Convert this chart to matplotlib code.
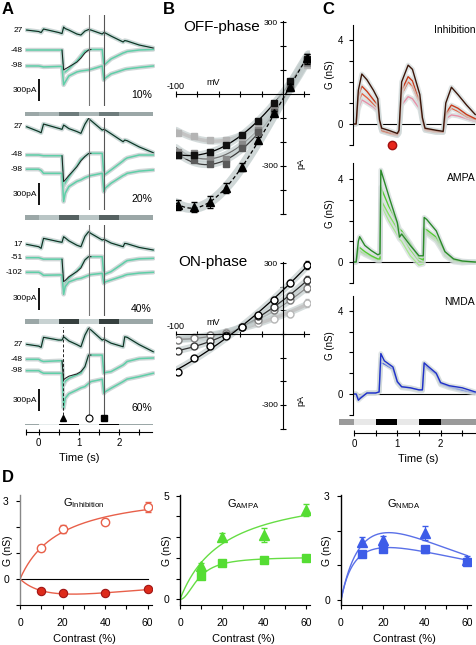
import numpy as np
import matplotlib.pyplot as plt

plt.rcParams['font.family'] = ['Liberation Sans', 'DejaVu Sans']
plt.rcParams['mathtext.fontset'] = 'custom'
plt.rcParams['mathtext.rm'] = 'Liberation Sans'
plt.rcParams['axes.linewidth'] = 0.8

W, H = 477, 645

# ---------------- panel A: currents at three holding potentials (pA) ----------------
tA = [-0.3, 0.0, 0.06, 0.12, 0.5, 0.58, 0.62, 0.66, 0.75, 0.95, 1.05, 1.15,
      1.24, 1.3, 1.58, 1.62, 1.66, 1.8, 2.1, 2.14, 2.2, 2.5, 2.85]

a10_hold = ['27', '-48', '-98']
a10_up = [272, 252, 238, 286, 238, 224, 313, 292, 272, 218, 204, 258,
          279, 272, 218, 238, 231, 190, 109, 129, 122, 68, 27]
a10_mid = [0, 0, 0, 0, 0, 0, -313, -299, -258, -150, -82, -14,
           0, 7, 7, -204, -190, -122, -41, -34, -20, 0, 7]
a10_mid_k = [0, 0, 0, 0, 0, 0, -272, -258, -230, -165, -110, -40,
             0, 7, 7, -204, -190, -122, -41, -34, -20, 0, 7]
a10_low = [-218, -218, -224, -231, -224, -224, -476, -435, -354, -299, -286, -279,
           -272, -265, -218, -408, -381, -326, -272, -265, -258, -238, -218]

a20_hold = ['27', '-48', '-98']
a20_up = [385, 320, 303, 422, 363, 350, 408, 395, 360, 320, 295, 420,
          499, 470, 340, 350, 340, 290, 181, 204, 195, 110, 31]
a20_mid = [0, 0, -5, -10, -10, -10, -420, -380, -300, -150, -60, -20,
           20, 23, 23, -272, -260, -204, -80, -60, -40, 0, 0]
a20_mid_k = [0, 0, -5, -10, -10, -10, -363, -340, -280, -160, -80, -20,
             20, 23, 23, -272, -260, -204, -80, -60, -40, 0, 0]
a20_low = [-194, -194, -210, -250, -250, -250, -635, -520, -431, -360, -340, -310,
           -290, -280, -249, -499, -450, -385, -280, -270, -250, -220, -204]

a40_hold = ['17', '-51', '-102']
a40_up = [182, 150, 128, 264, 218, 210, 286, 270, 230, 170, 150, 290,
          354, 330, 241, 250, 240, 200, 150, 196, 190, 140, 105]
a40_mid = [0, 0, -10, -20, -20, -20, -400, -350, -280, -180, -122, -30,
           14, 14, 14, -235, -220, -190, -77, -60, -40, -15, -9]
a40_mid_k = [0, 0, -10, -20, -20, -20, -326, -310, -260, -190, -140, -30,
             14, 14, 14, -235, -220, -190, -77, -60, -40, -15, -9]
a40_low = [-199, -199, -215, -240, -235, -235, -500, -394, -330, -290, -281, -260,
           -240, -230, -213, -349, -330, -304, -250, -240, -230, -210, -199]

a60_hold = ['27', '-48', '-98']
a60_up = [204, 180, 163, 300, 262, 262, 307, 290, 250, 200, 171, 330,
          422, 400, 262, 275, 262, 220, 171, 307, 300, 200, 103]
a60_mid = [0, 0, -20, -30, -20, -20, -350, -300, -260, -213, -190, -100,
           58, 58, 58, -190, -180, -168, -78, -60, -30, 10, 18]
a60_mid_k = [0, 0, -20, -30, -20, -20, -279, -260, -230, -200, -168, -100,
             58, 58, 58, -190, -180, -168, -78, -60, -30, 10, 18]
a60_low = [-155, -155, -175, -190, -190, -190, -667, -531, -470, -418, -390, -372,
           -330, -304, -272, -463, -440, -395, -304, -290, -270, -236, -190]

contrast_labels = ['10%', '20%', '40%', '60%']
stim_edges = [0.0, 0.5, 1.0, 1.5, 2.0]
sample_times = [0.6, 1.26, 1.63]   # triangle (OFF), circle (ON), square (OFF)

# ---------------- panel B: I-V relations ----------------
V = [-98, -83, -68, -53, -38, -23, -8, 7, 22]
off_light = [-162, -175, -192, -190, -180, -140, -55, 30, 120]
off_mid = [-240, -245, -265, -270, -210, -150, -60, 30, 130]
off_dark = [-255, -275, -290, -290, -225, -160, -75, 25, 140]
off_black = [-254, -254, -242, -212, -171, -112, -37, 54, 146]
off_tri = [-462, -471, -450, -392, -304, -192, -79, 30, 150]
off_tri_err = [22, 22, 25, 20, 15, 12, 10, 10, 15]
on_1 = [-161, -102, -51, -8, 30, 80, 144, 216, 292]
on_2 = [-72, -51, -30, -4, 30, 75, 114, 161, 228]
on_3 = [-25, -17, -4, 4, 28, 59, 102, 144, 195]
on_4 = [-25, -13, -4, 8, 28, 47, 63, 85, 131]

# ---------------- panel C: conductances (nS) ----------------
tI = [0, 0.05, 0.1, 0.18, 0.3, 0.45, 0.55, 0.59, 0.64, 0.8, 1.0, 1.04, 1.1,
      1.25, 1.35, 1.52, 1.58, 1.64, 1.9, 2.06, 2.12, 2.25, 2.4, 2.6, 2.8]
inh_1 = [0, 0, 1.6, 2.38, 2.1, 1.6, 1.2, 0.2, -0.2, -0.3, -0.45, -0.3, 2.0,
         2.8, 2.6, 1.4, 0.3, -0.2, -0.3, -0.35, 1.0, 1.75, 1.4, 0.9, 0.45]
inh_2 = [0, 0, 1.3, 1.8, 1.55, 1.15, 0.9, 0.1, -0.3, -0.4, -0.5, -0.4, 1.6,
         2.25, 2.05, 1.1, 0.2, -0.25, -0.35, -0.4, 0.5, 0.9, 0.75, 0.45, 0.25]
inh_3 = [0, 0, 1.0, 1.45, 1.25, 0.95, 0.75, 0.05, -0.35, -0.45, -0.55, -0.45, 1.4,
         2.0, 1.8, 0.95, 0.15, -0.3, -0.4, -0.4, 0.4, 0.75, 0.6, 0.35, 0.2]
inh_4 = [0, 0, 0.7, 1.15, 1.0, 0.8, 0.6, 0.0, -0.35, -0.45, -0.55, -0.45, 0.9,
         1.3, 1.2, 0.7, 0.1, -0.3, -0.4, -0.4, 0.25, 0.43, 0.38, 0.25, 0.12]

tAM = [0, 0.05, 0.1, 0.13, 0.25, 0.4, 0.55, 0.6, 0.62, 0.8, 1.0, 1.05, 1.1,
       1.3, 1.5, 1.6, 1.62, 1.68, 1.9, 2.05, 2.1, 2.3, 2.5, 2.8]
ampa_1 = [0, 0, 1.0, 1.22, 0.8, 0.55, 0.35, 0.4, 4.43, 3.2, 1.9, 1.2, 1.35,
          0.8, 0.3, 0.3, 2.15, 2.05, 1.5, 0.75, 0.5, 0.15, 0.05, 0]
ampa_2 = [0, 0, 0.6, 0.7, 0.5, 0.3, 0.15, 0.15, 3.6, 2.7, 1.9, 1.6, 1.5,
          0.9, 0.2, 0.1, 1.6, 1.55, 1.2, 0.7, 0.5, 0.1, 0, 0]
ampa_3 = [0, 0, 0.45, 0.55, 0.4, 0.25, 0.1, 0.1, 3.0, 2.3, 1.6, 1.4, 1.3,
          0.6, 0.05, 0, 1.5, 1.45, 1.1, 0.6, 0.4, 0.05, 0, 0]
ampa_4 = [0, 0, 0.4, 0.5, 0.35, 0.2, 0.05, 0.05, 2.8, 2.0, 1.3, 1.1, 1.0,
          0.3, -0.15, -0.1, 1.4, 1.35, 1.0, 0.5, 0.3, 0, -0.05, 0]

tN = [0, 0.05, 0.1, 0.15, 0.3, 0.5, 0.58, 0.62, 0.7, 0.9, 1.0, 1.1, 1.3, 1.5,
      1.58, 1.62, 1.7, 1.9, 2.0, 2.2, 2.5, 2.8]
nmda_1 = [0, 0, -0.3, -0.2, 0.05, 0.05, 0.1, 1.95, 1.6, 1.3, 0.6, 0.35, 0.3, 0.2,
          0.2, 1.5, 1.35, 1.0, 0.55, 0.4, 0.3, 0.1]
nmda_2 = [0, 0, -0.2, -0.15, 0.05, 0.05, 0.1, 1.5, 1.45, 1.2, 0.55, 0.35, 0.3, 0.2,
          0.2, 1.4, 1.25, 0.95, 0.5, 0.35, 0.2, 0.05]
nmda_3 = [0, 0, -0.15, -0.1, 0.05, 0.05, 0.1, 1.7, 1.5, 1.25, 0.55, 0.3, 0.25, 0.15,
          0.15, 1.45, 1.3, 0.9, 0.45, 0.3, 0.15, 0.05]

# ---------------- panel D: conductance vs contrast ----------------
contrast = [10, 20, 40, 60]
inh_on = [1.18, 1.91, 2.2, 2.78]
inh_on_err = [0.12, 0.15, 0.1, 0.2]
inh_off = [-0.46, -0.55, -0.55, -0.4]
inh_off_err = [0.05, 0.05, 0.05, 0.08]
ampa_tri = [1.63, 3.03, 3.1, 4.3]
ampa_tri_err = [0.12, 0.15, 0.35, 0.3]
ampa_sq = [1.12, 1.75, 1.91, 2.0]
ampa_sq_err = [0.08, 0.08, 0.08, 0.08]
nmda_tri = [1.68, 1.74, 1.93, 1.15]
nmda_tri_err = [0.12, 0.1, 0.2, 0.12]
nmda_sq = [1.32, 1.46, 1.46, 1.1]
nmda_sq_err = [0.08, 0.08, 0.1, 0.08]

TEAL = '#5fcfa8'
BAND = '#c4cece'

fig = plt.figure(figsize=(W / 100, H / 100), dpi=100)


def px_ax(x0, y0, x1, y1):
    return fig.add_axes([x0 / W, 1 - y1 / H, (x1 - x0) / W, (y1 - y0) / H])


def ftext(x, y, s, **kw):
    fig.text(x / W, 1 - y / H, s, **kw)


def sat_fit(x, y, xs):
    # saturating (optionally declining) curve, brute force least squares
    x = np.asarray(x, float)
    y = np.asarray(y, float)
    best = None
    for n in (1.0, 1.3, 1.6, 2.0):
        for b in np.linspace(1, 60, 60):
            for k in np.linspace(0, 0.03, 13):
                f = x ** n / (x ** n + b ** n) * np.exp(-k * x)
                a = (f @ y) / (f @ f)
                err = np.sum((a * f - y) ** 2)
                if best is None or err < best[0]:
                    best = (err, n, b, k, a)
    _, n, b, k, a = best
    return a * xs ** n / (xs ** n + b ** n) * np.exp(-k * xs)


# ================= A =================
PA_PER_PX = 300 / 22
tx = lambda x: (x - 38.7) / 40.2
A_xlim = (tx(25), tx(155))

A_layout = [
    # ref px, top px, bottom px, bar y0, bar y1, scale bar top px, label y
    (50, 15, 106, 111.7, 116.2, 79, 95),
    (155, 118, 210, 215, 219.5, 183, 199),
    (257.7, 225, 316, 319, 323.5, 288, 309),
    (359.3, 325, 421, 424, 428.7, 389, 408),
]
A_traces = [
    (a10_hold, a10_up, a10_mid, a10_mid_k, a10_low),
    (a20_hold, a20_up, a20_mid, a20_mid_k, a20_low),
    (a40_hold, a40_up, a40_mid, a40_mid_k, a40_low),
    (a60_hold, a60_up, a60_mid, a60_mid_k, a60_low),
]
bar_shades = [
    ('#9ba7a7', '#aab6b6', '#6e7c7c'),
    ('#9ba7a7', '#b9c5c5', '#566262'),
    ('#9ba7a7', '#c8d2d2', '#36403f'),
    ('#9ba7a7', '#e6ecec', '#000000'),
]

for i, ((ref, top, bot, by0, by1, sb_top, lab_y), (hold, up, mid, mid_k, low)) in \
        enumerate(zip(A_layout, A_traces)):
    ax = px_ax(25, top, 155, bot)
    ax.set_xlim(*A_xlim)
    ax.set_ylim((ref - bot) * PA_PER_PX, (ref - top) * PA_PER_PX)
    ax.axis('off')
    for y in (up, mid, low):
        ax.plot(tA, y, color=BAND, lw=3.2, solid_capstyle='round', alpha=0.8)
        ax.plot(tA, y, color=TEAL, lw=1.1)
    ax.plot(tA, up, color='#1a1a1a', lw=0.7)
    ax.plot(tA[5:14], mid_k[5:14], color='#1a1a1a', lw=0.7)
    if i < 3:
        ax.axvline(sample_times[1], color='#777777', lw=0.8)
        ax.axvline(sample_times[2], color='#555555', lw=0.8)
    else:
        ax.axvline(sample_times[0], color='#222222', lw=0.7, ls=(0, (3, 2)),
                   ymin=6 / 96, ymax=0.98)
        ax.axvline(sample_times[1], color='#777777', lw=0.8, ymin=6 / 96, ymax=0.98)
        ax.axvline(sample_times[2], color='#555555', lw=0.8, ymin=6 / 96, ymax=0.98)
        my = (ref - 418) * PA_PER_PX
        ax.plot(sample_times[0], my, marker='^', color='k', ms=5, clip_on=False)
        ax.plot(sample_times[1], my, marker='o', mfc='white', mec='k', mew=0.8,
                ms=5, clip_on=False)
        ax.plot(sample_times[2], my, marker='s', color='k', ms=4.5, clip_on=False)
    for lab, y in zip(hold, (up, mid, low)):
        ax.text(tx(23), y[0], lab, ha='right', va='center', fontsize=6)
    # scale bar 300 pA
    s0 = (ref - sb_top) * PA_PER_PX
    ax.plot([tx(39.3), tx(39.3)], [s0, s0 - 300], color='k', lw=1.3,
            solid_capstyle='butt')
    ax.text(tx(37.5), s0 - 150, '300pA', ha='right', va='center', fontsize=6)
    ax.text(tx(152), (ref - lab_y) * PA_PER_PX, contrast_labels[i], ha='right',
            va='center', fontsize=7.5)

    # stimulus bar
    bax = px_ax(25, by0, 153, by1)
    bax.set_xlim(tx(25), tx(153))
    bax.set_ylim(0, 1)
    bax.axis('off')
    end_c, light_c, dark_c = bar_shades[i]
    edges = [tx(25)] + stim_edges + [tx(153)]
    cols = [end_c, light_c, dark_c, light_c, dark_c, end_c]
    for l, r, c in zip(edges[:-1], edges[1:], cols):
        bax.barh(0.5, r - l, left=l, height=1, color=c, lw=0)

# A time axis
tax = px_ax(25, 425, 155, 432)
tax.set_xlim(*A_xlim)
tax.set_ylim(0, 1)
for s in ('left', 'right', 'top'):
    tax.spines[s].set_visible(False)
tax.spines['bottom'].set_bounds(tx(26), tx(152))
tax.set_yticks([])
tax.set_xticks([0, 1, 2])
tax.set_xticks([tx(26), 0.5, 1.5, 2.5], minor=True)
tax.tick_params(axis='x', which='both', direction='inout', length=4, width=0.8,
                labelsize=7, pad=2)
ftext(79, 458, 'Time (s)', ha='center', va='center', fontsize=8)

# ================= B =================
vv = np.linspace(-100, 24, 200)


def iv_axes(y0, y1, ylo, yhi):
    ax = px_ax(176, y0, 309.75, y1)
    ax.set_xlim(-100, 25)
    ax.set_ylim(ylo, yhi)
    ax.spines['left'].set_position(('data', 0))
    ax.spines['bottom'].set_position(('data', 0))
    ax.spines['right'].set_visible(False)
    ax.spines['top'].set_visible(False)
    ax.spines['bottom'].set_bounds(-100, 24)
    ax.set_xticks(np.arange(-100, 21, 20))
    ax.set_xticklabels([])
    yt = np.arange(-500 if ylo < -500 else -400, 301, 100)
    ax.set_yticks(yt)
    ax.set_yticklabels(['300' if v == 300 else '-300' if v == -300 else '' for v in yt])
    ax.tick_params(direction='inout', length=5, width=0.8, labelsize=6, pad=1)
    ppx = (yhi - ylo) / (y1 - y0)
    ax.text(-100, 3 * ppx, '-100', ha='center', va='bottom', fontsize=6.5)
    ax.text(-65, 7 * ppx, 'mV', ha='center', va='bottom', fontsize=6.5)
    return ax


off = iv_axes(19.7, 216.3, -510, 310)
off.spines['left'].set_bounds(-500, 305)
off.text(17, -290, 'pA', rotation=90, ha='center', va='center', fontsize=6.5)
ftext(183, 27, 'OFF-phase', ha='left', va='center', fontsize=11)
off_series = [
    (off_light, '#b4b4b4', '#c4c4c4'),
    (off_mid, '#8a8a8a', '#707070'),
    (off_dark, '#5a5a5a', '#3a3a3a'),
    (off_black, '#111111', '#000000'),
]
for ys, mc, lc in off_series:
    fit = np.polyval(np.polyfit(V, ys, 3), vv)
    off.plot(vv, fit, color=BAND, lw=5, alpha=0.7, solid_capstyle='round')
    off.plot(vv, fit, color=lc, lw=0.9 if lc != '#c4c4c4' else 2.5)
fit = np.polyval(np.polyfit(V, off_tri, 3), vv)
off.plot(vv, fit, color=BAND, lw=7, alpha=0.8, solid_capstyle='round')
off.plot(vv, fit, color='k', lw=0.9, ls=(0, (3, 2)))
for ys, mc, lc in off_series:
    off.plot(V, ys, 's', color=mc, ms=5, mec=mc)
off.errorbar(V, off_tri, yerr=off_tri_err, fmt='^', color='k', ms=5.5,
             elinewidth=0.7, capsize=2)
off.errorbar(V[-1:], off_black[-1:], yerr=[20], fmt='none', ecolor='k',
             elinewidth=0.7, capsize=2)

on = iv_axes(258.3, 433.3, -420, 320)
on.spines['left'].set_bounds(-400, 305)
on.text(17, -280, 'pA', rotation=90, ha='center', va='center', fontsize=6.5)
ftext(178, 262, 'ON-phase', ha='left', va='center', fontsize=11)
on_series = [
    (on_4, '#b8b8b8', '#c4c4c4'),
    (on_3, '#808080', '#8a8a8a'),
    (on_2, '#3a3a3a', '#303030'),
    (on_1, '#000000', '#000000'),
]
for ys, mc, lc in on_series:
    fit = np.polyval(np.polyfit(V, ys, 2), vv)
    on.plot(vv, fit, color=BAND, lw=5, alpha=0.7, solid_capstyle='round')
    on.plot(vv, fit, color=lc, lw=0.9 if lc != '#c4c4c4' else 2.5)
for ys, mc, lc in on_series:
    on.errorbar(V[-3:], ys[-3:], yerr=[12, 14, 16], fmt='none', ecolor=mc,
                elinewidth=0.6, capsize=1.5)
    on.plot(V, ys, 'o', mfc='white', mec=mc, mew=1, ms=5)

# ================= C =================
tcx = lambda x: (x - 354) / 43.3
C_xlim = (tcx(353), tcx(476))


def cond_axes(y0, y1, ylo, yhi, name, yname):
    ax = px_ax(353, y0, 476, y1)
    ax.set_xlim(*C_xlim)
    ax.set_ylim(ylo, yhi)
    for s in ('right', 'top', 'bottom'):
        ax.spines[s].set_visible(False)
    ax.set_xticks([])
    ax.set_yticks(range(-1, 5))
    ax.set_yticklabels(['', '0', '', '', '', '4'])
    ax.tick_params(axis='y', length=3, width=0.8, labelsize=7, pad=4)
    ax.axhline(0, color='k', lw=0.8, xmax=(474 - 353) / 123)
    ax.text(2.8, yname, name, ha='right', va='center', fontsize=7.5)
    ax.text(-0.55, 2.35, 'G (nS)', rotation=90, ha='center', va='center',
            fontsize=7)
    return ax


def cond_trace(ax, t, y, c, lw=1.0):
    ax.plot(t, y, color='#d2dada', lw=3.5, alpha=0.7, solid_capstyle='round')
    ax.plot(t, y, color=c, lw=lw)


cI = cond_axes(25, 145, -1, 4.71, 'Inhibition', 4.48)
for y, c in ((inh_4, '#e890a8'), (inh_3, '#e56040'), (inh_2, '#c83a1a'), (inh_1, '#3b1508')):
    cond_trace(cI, tI, y, c)
cI.plot(0.87, -1.0, 'o', color='#e8251a', mec='#a01010', ms=6, clip_on=False)

cA = cond_axes(163, 283, -1.01, 4.77, 'AMPA', 4.05)
for y, c in ((ampa_4, '#a8e890'), (ampa_3, '#86de64'), (ampa_2, '#55cc33'), (ampa_1, '#2a8a2a')):
    cond_trace(cA, tAM, y, c)

cN = cond_axes(296, 415, -1.01, 4.72, 'NMDA', 4.45)
for y, c in ((nmda_3, '#90a8f0'), (nmda_2, '#3a58e0'), (nmda_1, '#1f30c8')):
    cond_trace(cN, tN, y, c)

cbar = px_ax(339, 419, 476, 424.5)
cbar.set_xlim(tcx(339), tcx(476))
cbar.set_ylim(0, 1)
cbar.axis('off')
edges = [tcx(339)] + stim_edges + [tcx(476)]
cols = ['#9a9a9a', '#e8e8e8', '#000000', '#e8e8e8', '#000000', '#9a9a9a']
for l, r, c in zip(edges[:-1], edges[1:], cols):
    cbar.barh(0.5, r - l, left=l, height=1, color=c, lw=0)

ctax = px_ax(353, 426, 476, 433)
ctax.set_xlim(*C_xlim)
ctax.set_ylim(0, 1)
for s in ('left', 'right', 'top'):
    ctax.spines[s].set_visible(False)
ctax.spines['bottom'].set_bounds(0, 2.8)
ctax.set_yticks([])
ctax.set_xticks([0, 1, 2])
ctax.set_xticks([0.5, 1.5, 2.5], minor=True)
ctax.tick_params(axis='x', which='both', direction='inout', length=4, width=0.8,
                 labelsize=7, pad=2)
ftext(418, 459, 'Time (s)', ha='center', va='center', fontsize=8)

# ================= D =================
cs = np.linspace(0, 60, 200)


def dose_axes(x0, x1, ylo, yhi, yt, ylabs, title, ty, ylab_x, spine_c='k'):
    ax = px_ax(x0, 495, x1, 605)
    ax.set_xlim(0, 62)
    ax.set_ylim(ylo, yhi)
    ax.spines['right'].set_visible(False)
    ax.spines['top'].set_visible(False)
    ax.spines['left'].set_color(spine_c)
    ax.spines['left'].set_linewidth(1.0)
    ax.set_xticks([0, 20, 40, 60])
    ax.set_xticks([10, 30, 50], minor=True)
    ax.set_yticks(yt)
    ax.set_yticklabels(ylabs)
    ax.tick_params(which='both', length=3, width=0.8, labelsize=7.5)
    ax.tick_params(axis='x', pad=6)
    ax.tick_params(axis='y', pad=5)
    ax.text(30, ty, title, ha='center', va='center', fontsize=8)
    ftext((x0 + x1) / 2 - 2, 639, 'Contrast (%)', ha='center', va='center', fontsize=8)
    ftext(ylab_x, 551, 'G (nS)', rotation=90, ha='center', va='center', fontsize=7.5)
    return ax


d1 = dose_axes(20, 152, -1, 3.23, [-1, 0, 1, 2, 3], ['', '0', '', '', '3'],
               r'G$_{\mathrm{Inhibition}}$', 2.9, 8, spine_c='#888888')
d1.axhline(0, color='k', lw=0.8, xmax=60 / 62)
red = '#e8604a'
d1.plot(cs, sat_fit(contrast, inh_on, cs), color=red, lw=1)
d1.plot(cs, sat_fit(contrast, inh_off, cs), color=red, lw=1)
d1.errorbar(contrast, inh_on, yerr=inh_on_err, fmt='o', mfc='white', mec=red,
            ecolor=red, ms=6, mew=1, elinewidth=0.8, capsize=2)
d1.errorbar(contrast, inh_off, yerr=inh_off_err, fmt='o', mfc='#dd2a1a',
            mec='#a01515', ecolor=red, ms=6, mew=0.8, elinewidth=0.8, capsize=2)

d2 = dose_axes(180, 310, -0.27, 5.03, [0, 1, 2, 3, 4, 5], ['0', '', '', '', '', '5'],
               r'G$_{\mathrm{AMPA}}$', 4.6, 167)
green = '#66dd44'
d2.plot(cs, sat_fit(contrast, ampa_tri, cs), color=green, lw=1)
d2.plot(cs, sat_fit(contrast, ampa_sq, cs), color=green, lw=1)
d2.errorbar(contrast, ampa_tri, yerr=ampa_tri_err, fmt='^', color='#55dd33',
            ms=6.5, elinewidth=0.8, capsize=2)
d2.errorbar(contrast, ampa_sq, yerr=ampa_sq_err, fmt='s', color='#55dd33',
            ms=5.5, elinewidth=0.8, capsize=2)

d3 = dose_axes(341, 471, -0.14, 3.02, [0, 1, 2, 3], ['0', '', '', '3'],
               r'G$_{\mathrm{NMDA}}$', 2.75, 327)
blue = '#5a70e8'
d3.plot(cs, sat_fit(contrast, nmda_tri, cs), color=blue, lw=1)
d3.plot(cs, sat_fit(contrast, nmda_sq, cs), color=blue, lw=1)
d3.errorbar(contrast, nmda_tri, yerr=nmda_tri_err, fmt='^', color='#3d5ce8',
            ms=6.5, elinewidth=0.8, capsize=2)
d3.errorbar(contrast, nmda_sq, yerr=nmda_sq_err, fmt='s', color='#3d5ce8',
            ms=5.5, elinewidth=0.8, capsize=2)

# panel letters
for x, y, s in ((2, 10, 'A'), (163, 10, 'B'), (322, 10, 'C'), (2, 478, 'D')):
    ftext(x, y, s, ha='left', va='center', fontsize=12, fontweight='bold')

fig.savefig('out.png', dpi=100)
